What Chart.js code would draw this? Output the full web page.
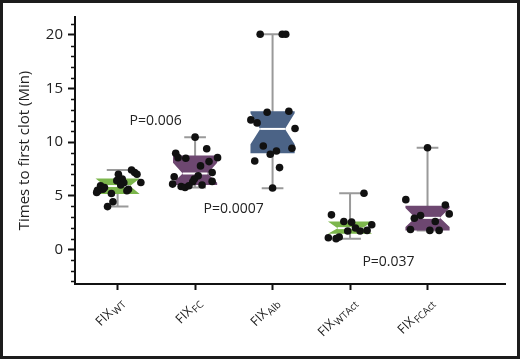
<!DOCTYPE html>
<html>
<head>
<meta charset="utf-8">
<script src="https://cdn.jsdelivr.net/npm/chart.js@4"></script>
<style>
  html, body { margin: 0; padding: 0; background: #fff; }
  #frame { width: 520px; height: 359px; box-sizing: border-box; border: 3px solid #1c1c1c; background: #fff; }
  canvas { display: block; }
</style>
</head>
<body>
<div id="frame"><canvas id="chart" width="514" height="353"></canvas></div>
<script>
/* --- Data --- */

const categoryBase = 'FIX';
const categorySubs = ['WT', 'FC', 'Alb', 'WTAct', 'FCAct'];
const yTicks = [0, 5, 10, 15, 20];
const yTitle = 'Times to first clot (Min)';

// box statistics per group (minutes)
const whiskerLow  = [4.0, 5.77, 5.7, 0.99, 1.76];
const q1          = [5.16, 6.0, 8.95, 1.45, 1.76];
const median      = [5.9, 7.07, 11.23, 1.97, 2.93];
const q3          = [6.6, 8.76, 12.87, 2.59, 4.07];
const whiskerHigh = [7.4, 10.46, 20.06, 5.22, 9.47];
const notchLow    = [5.16, 6.2, 9.79, 1.45, 2.07];
const notchHigh   = [6.6, 8.08, 12.7, 2.59, 3.86];

// individual measurements + horizontal jitter (category units)
const wtTimes  = [7.4, 7.16, 7.0, 7.0, 6.55, 6.4, 6.23, 6.2, 6.0, 5.93, 5.77, 5.6, 5.6, 5.5, 5.46, 5.46, 5.3, 5.21, 4.44, 3.98];
const wtJitter = [0.18, 0.22, 0.01, 0.25, 0.06, -0.01, 0.30, 0.08, 0.04, -0.22, -0.17, -0.19, 0.14, -0.26, 0.12, -0.25, -0.27, -0.08, -0.06, -0.13];
const fcTimes  = [10.46, 9.38, 8.95, 8.55, 8.55, 8.49, 8.18, 7.78, 7.16, 6.85, 6.76, 6.55, 6.33, 6.3, 6.08, 5.86, 5.77, 5.93, 5.99];
const fcJitter = [0.0, 0.15, -0.25, -0.22, 0.29, -0.12, 0.18, 0.07, 0.22, 0.04, -0.27, -0.01, 0.22, -0.03, -0.29, -0.18, -0.13, -0.08, 0.09];
const albTimes  = [20.06, 20.06, 20.06, 12.78, 12.87, 12.07, 11.79, 11.27, 9.63, 9.42, 9.17, 8.86, 8.24, 7.62, 5.71];
const albJitter = [-0.16, 0.125, 0.17, -0.07, 0.21, -0.28, -0.2, 0.29, -0.12, 0.25, 0.05, -0.03, -0.23, 0.09, 0.0];
const wtActTimes  = [5.22, 3.21, 2.59, 2.53, 2.29, 1.98, 1.7, 1.76, 1.7, 1.08, 0.99, 1.14];
const wtActJitter = [0.18, -0.24, -0.08, 0.02, 0.28, 0.07, 0.13, 0.22, -0.03, -0.28, -0.18, -0.14];
const fcActTimes  = [9.47, 4.63, 4.13, 3.3, 3.15, 2.9, 2.59, 1.85, 1.76, 1.76];
const fcActJitter = [0.0, -0.28, 0.23, 0.28, -0.09, -0.17, 0.1, -0.22, 0.03, 0.15];

const groupTimes  = [wtTimes, fcTimes, albTimes, wtActTimes, fcActTimes];
const groupJitter = [wtJitter, fcJitter, albJitter, wtActJitter, fcActJitter];

const pLabels = [
  { text: 'P=0.006',  x: 0.155, y: 12.0 },
  { text: 'P=0.0007', x: 1.11,  y: 3.8 },
  { text: 'P=0.037',  x: 3.16,  y: -1.2 },
];

/* --- Style --- */

const FONT = '"Open Sans", sans-serif';
const TEXT = '#222';
const BOX_COLORS = ['#7cb64c', '#6d4770', '#4b6386', '#7cb64c', '#6d4770'];
const WHISKER = '#9a9a9a';
const BOX_HALF = 0.285;
const NOTCH_HALF = 0.16;
const CAP_HALF = 0.14;

/* Notched boxes + whiskers, drawn behind the points */
const boxPlugin = {
  id: 'notchedBoxes',
  beforeDatasetsDraw(chart) {
    const { ctx, scales: { x, y } } = chart;
    categorySubs.forEach((c, i) => {
      const cx = x.getPixelForValue(i);
      const L = x.getPixelForValue(i - BOX_HALF), R = x.getPixelForValue(i + BOX_HALF);
      const nL = x.getPixelForValue(i - NOTCH_HALF), nR = x.getPixelForValue(i + NOTCH_HALF);
      const cL = x.getPixelForValue(i - CAP_HALF), cR = x.getPixelForValue(i + CAP_HALF);
      const yLo = y.getPixelForValue(whiskerLow[i]), yHi = y.getPixelForValue(whiskerHigh[i]);
      const yQ1 = y.getPixelForValue(q1[i]), yQ3 = y.getPixelForValue(q3[i]);
      const yMed = y.getPixelForValue(median[i]);
      const yNLo = y.getPixelForValue(notchLow[i]), yNHi = y.getPixelForValue(notchHigh[i]);

      ctx.save();
      // whiskers
      ctx.strokeStyle = WHISKER;
      ctx.lineWidth = 2;
      ctx.beginPath();
      ctx.moveTo(cx, yHi); ctx.lineTo(cx, yLo);
      ctx.moveTo(cL, yHi); ctx.lineTo(cR, yHi);
      ctx.moveTo(cL, yLo); ctx.lineTo(cR, yLo);
      ctx.stroke();

      // notched box
      ctx.fillStyle = BOX_COLORS[i];
      ctx.beginPath();
      ctx.moveTo(L, yQ3); ctx.lineTo(R, yQ3); ctx.lineTo(R, yNHi);
      ctx.lineTo(nR, yMed); ctx.lineTo(R, yNLo); ctx.lineTo(R, yQ1);
      ctx.lineTo(L, yQ1); ctx.lineTo(L, yNLo); ctx.lineTo(nL, yMed);
      ctx.lineTo(L, yNHi);
      ctx.closePath();
      ctx.fill();

      // median
      ctx.strokeStyle = '#fff';
      ctx.lineWidth = 2;
      ctx.beginPath();
      ctx.moveTo(nL, yMed); ctx.lineTo(nR, yMed);
      ctx.stroke();
      ctx.restore();
    });
  }
};

/* Minor y ticks and P values */
const labelPlugin = {
  id: 'labels',
  afterDraw(chart) {
    const { ctx, chartArea, scales: { x, y } } = chart;
    ctx.save();
    ctx.strokeStyle = '#111';
    ctx.lineWidth = 1.5;
    ctx.beginPath();
    for (let v = Math.ceil(y.min); v <= y.max; v++) {
      if (v % 5 === 0) continue;
      const py = Math.round(y.getPixelForValue(v)) + 0.5;
      ctx.moveTo(chartArea.left - 4, py);
      ctx.lineTo(chartArea.left, py);
    }
    ctx.stroke();

    ctx.fillStyle = TEXT;
    ctx.font = '14px ' + FONT;
    ctx.textAlign = 'left';
    ctx.textBaseline = 'middle';
    pLabels.forEach(p => {
      ctx.fillText(p.text, x.getPixelForValue(p.x), y.getPixelForValue(p.y));
    });
    ctx.restore();
  }
};

/* Category labels: "FIX" + subscript, rotated 45 degrees */
const categoryLabelPlugin = {
  id: 'categoryLabels',
  afterDraw(chart) {
    const { ctx, chartArea, scales: { x } } = chart;
    categorySubs.forEach((sub, i) => {
      const px = x.getPixelForValue(i);
      ctx.save();
      ctx.translate(px + 7, chartArea.bottom + 19);
      ctx.rotate(-Math.PI / 4);
      ctx.fillStyle = TEXT;
      ctx.textAlign = 'right';
      ctx.textBaseline = 'alphabetic';
      ctx.font = '10px ' + FONT;
      const subW = ctx.measureText(sub).width;
      ctx.fillText(sub, 0, 3);
      ctx.font = '13px ' + FONT;
      ctx.fillText(categoryBase, -subW - 1, 0);
      ctx.restore();
    });
  }
};

const points = [];
groupTimes.forEach((times, i) => {
  times.forEach((v, k) => points.push({ x: i + groupJitter[i][k], y: v }));
});

new Chart(document.getElementById('chart'), {
  type: 'scatter',
  data: {
    datasets: [{
      data: points,
      backgroundColor: '#111',
      borderWidth: 0,
      pointRadius: 3.8,
      pointHoverRadius: 3.8,
    }]
  },
  options: {
    responsive: false,
    animation: false,
    layout: { padding: { top: 12, right: 12, left: 0, bottom: 0 } },
    plugins: {
      legend: { display: false },
      tooltip: { enabled: false },
    },
    scales: {
      x: {
        type: 'linear',
        min: -0.55,
        max: 5.0,
        afterBuildTicks: s => { s.ticks = categorySubs.map((c, i) => ({ value: i })); },
        afterFit: s => { s.height = 72; },
        grid: { drawOnChartArea: false, tickLength: 6, tickWidth: 2, tickColor: '#111' },
        border: { color: '#111', width: 2 },
        ticks: { display: false },
      },
      y: {
        type: 'linear',
        min: -3.24,
        max: 21.67,
        afterBuildTicks: s => { s.ticks = yTicks.map(v => ({ value: v })); },
        afterFit: s => { s.width = 72; },
        grid: { drawOnChartArea: false, tickLength: 7, tickWidth: 2, tickColor: '#111' },
        border: { color: '#111', width: 2 },
        ticks: {
          color: TEXT,
          padding: 5,
          font: { family: FONT, size: 15 },
        },
        title: {
          display: true,
          text: yTitle,
          color: TEXT,
          font: { family: FONT, size: 15 },
          padding: { top: 13, bottom: 0 },
        },
      }
    }
  },
  plugins: [boxPlugin, labelPlugin, categoryLabelPlugin]
});
</script>
</body>
</html>
